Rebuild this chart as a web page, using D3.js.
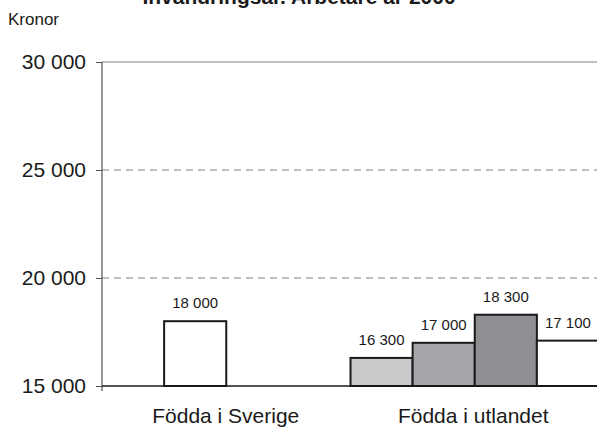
<!DOCTYPE html>
<html><head><meta charset="utf-8">
<script src="https://cdn.jsdelivr.net/npm/d3@7"></script>
<style>body{margin:0;background:#fff}svg{display:block;font-family:Arial,"Liberation Sans",sans-serif}</style>
</head><body>
<svg id="c" width="597" height="427"></svg>
<script>
const title = "Invandringsår. Arbetare år 2000";
const yLabel = "Kronor";
const categories = ["Födda i Sverige", "Födda i utlandet"];
const slots = ["s1", "s2", "s3", "s4"];
// Födda i Sverige: one bar in the second slot
const sverigeValues = [null, 18000, null, null];
const utlandetValues = [16300, 17000, 18300, 17100];
const sverigeColor = "#ffffff";
const seriesColors = ["#c8c9cb", "#a5a6a9", "#8e8f92", "#ffffff"];
const yTicks = [15000, 20000, 25000, 30000];

const svg = d3.select("#c");
const fmt = v => d3.format(",")(v).replace(",", " ");

const y = d3.scaleLinear().domain([15000, 30000]).range([386, 62]);
const x = d3.scaleBand().domain(categories).range([102, 599]).padding(0);
const xs = d3.scaleBand().domain(slots).range([0, x.bandwidth()]);

// title (cut off at top)
svg.append("text").attr("x", 299).attr("y", 4).attr("text-anchor", "middle")
  .attr("font-size", 21).attr("font-weight", "bold").attr("fill", "#1a1a1a").text(title);
svg.append("text").attr("x", 8).attr("y", 25).attr("font-size", 17).attr("fill", "#1a1a1a").text(yLabel);

// gridlines
yTicks.filter(t => t > 15000).forEach(t => {
  svg.append("line").attr("x1", 102).attr("x2", 597).attr("y1", y(t)).attr("y2", y(t))
    .attr("stroke", "#808080").attr("stroke-width", 1)
    .attr("stroke-dasharray", t === 30000 ? null : "7,5");
});

// y axis
const ya = svg.append("g").attr("transform", "translate(102,0)")
  .call(d3.axisLeft(y).tickValues(yTicks).tickSize(6).tickPadding(10).tickFormat(fmt));
ya.select(".domain").attr("stroke", "#333").attr("d", `M0,${y(30000)}V${y(15000)+5}`);
ya.selectAll(".tick line").attr("stroke", "#555");
ya.selectAll(".tick text").attr("font-size", 21).attr("fill", "#1a1a1a").attr("font-family", "Arial, Liberation Sans, sans-serif");

function drawGroup(cat, values, colors) {
  const g = svg.append("g").attr("transform", `translate(${x(cat)},0)`);
  const data = values.map((v, i) => ({v, i})).filter(d => d.v != null);
  g.selectAll("rect").data(data).join("rect")
    .attr("x", d => xs(slots[d.i])).attr("width", xs.bandwidth())
    .attr("y", d => y(d.v)).attr("height", d => y(15000) - y(d.v))
    .attr("fill", d => colors[d.i]).attr("stroke", "#1a1a1a").attr("stroke-width", 2);
  g.selectAll("text").data(data).join("text")
    .attr("x", d => xs(slots[d.i]) + xs.bandwidth()/2).attr("y", d => y(d.v) - 13)
    .attr("text-anchor", "middle").attr("font-size", 15).attr("fill", "#1a1a1a").text(d => fmt(d.v));
}
drawGroup("Födda i Sverige", sverigeValues, slots.map(() => sverigeColor));
drawGroup("Födda i utlandet", utlandetValues, seriesColors);

// baseline
svg.append("line").attr("x1", 102).attr("x2", 597).attr("y1", y(15000)).attr("y2", y(15000))
  .attr("stroke", "#1a1a1a").attr("stroke-width", 1.5);

// category labels
svg.selectAll(".cat").data(categories).join("text")
  .attr("x", (d, i) => 102 + (i + 0.5) * (597 - 102) / 2).attr("y", 423).attr("text-anchor", "middle")
  .attr("font-size", 21).attr("fill", "#1a1a1a").text(d => d);
</script>
</body></html>
